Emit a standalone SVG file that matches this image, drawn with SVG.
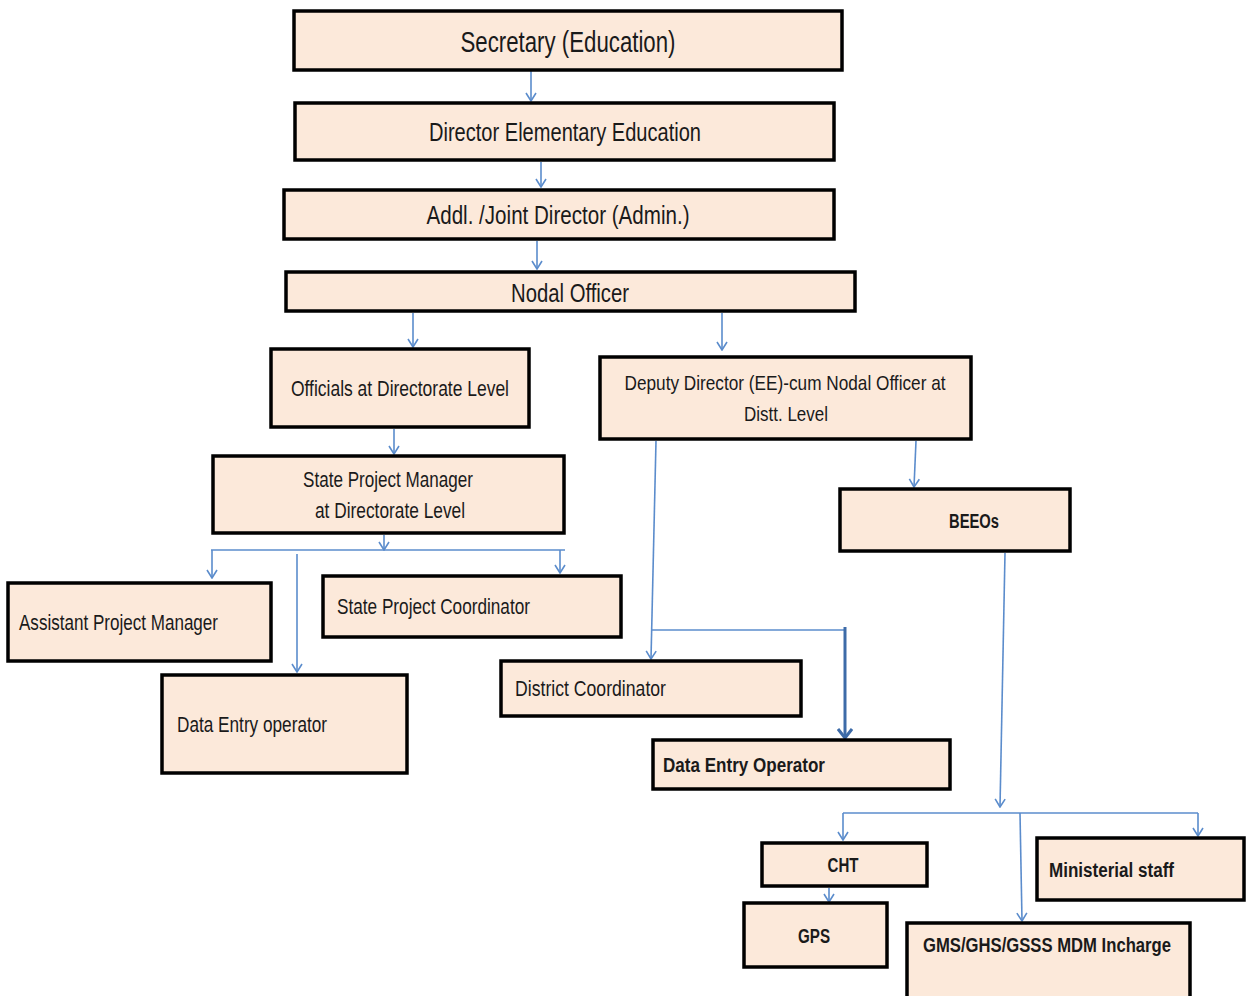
<svg xmlns="http://www.w3.org/2000/svg" width="1250" height="996" viewBox="0 0 1250 996">
<defs>
<style>
.box{fill:#fce9da;stroke:#000;stroke-width:3.5}
.t{font-family:"Liberation Sans",Arial,sans-serif;fill:#1a1a1a}
.b{font-weight:bold}
.c{stroke:#5b8ccc;stroke-width:1.6;fill:none}
.ck{stroke:#3d6ba8;stroke-width:3;fill:none}
</style>
<marker id="arr" viewBox="0 0 12 12" refX="11" refY="6" markerWidth="12" markerHeight="12" markerUnits="userSpaceOnUse" orient="auto">
<path d="M3,1 L11,6 L3,11" fill="none" stroke="#5b8ccc" stroke-width="1.6"/>
</marker>
<marker id="arrk" viewBox="0 0 16 16" refX="14" refY="8" markerWidth="16" markerHeight="16" markerUnits="userSpaceOnUse" orient="auto">
<path d="M5,1 L14,8 L5,15" fill="none" stroke="#3d6ba8" stroke-width="3"/>
</marker>
</defs>
<rect width="1250" height="996" fill="#fff"/>

<g id="connectors">
<path class="c" d="M531,64 V101" marker-end="url(#arr)"/>
<path class="c" d="M541,162 V187" marker-end="url(#arr)"/>
<path class="c" d="M537,241 V269" marker-end="url(#arr)"/>
<path class="c" d="M413,313 V347" marker-end="url(#arr)"/>
<path class="c" d="M722,313 V350" marker-end="url(#arr)"/>
<path class="c" d="M394,429 V454" marker-end="url(#arr)"/>
<path class="c" d="M384,535 V550" marker-end="url(#arr)"/>
<path class="c" d="M211,550 H565"/>
<path class="c" d="M212,550 V578" marker-end="url(#arr)"/>
<path class="c" d="M297,554 V672" marker-end="url(#arr)"/>
<path class="c" d="M560,550 V573" marker-end="url(#arr)"/>
<path class="c" d="M656,441 L651,659" marker-end="url(#arr)"/>
<path class="c" d="M651,630 H845"/>
<path class="ck" d="M845,627 V738" marker-end="url(#arrk)"/>
<path class="c" d="M916,441 L914,487" marker-end="url(#arr)"/>
<path class="c" d="M1005,553 L1000,807" marker-end="url(#arr)"/>
<path class="c" d="M843,813 H1198"/>
<path class="c" d="M843,813 V840" marker-end="url(#arr)"/>
<path class="c" d="M1020,813 L1022,921" marker-end="url(#arr)"/>
<path class="c" d="M1198,813 V836" marker-end="url(#arr)"/>
<path class="c" d="M829,888 V902" marker-end="url(#arr)"/>
</g>

<g id="secretary"><rect class="box" x="294" y="11" width="548" height="59"/>
<text class="t" x="568" y="52" font-size="29" text-anchor="middle" textLength="215" lengthAdjust="spacingAndGlyphs">Secretary (Education)</text></g>
<g id="director"><rect class="box" x="295" y="103" width="539" height="57"/>
<text class="t" x="565" y="141" font-size="26" text-anchor="middle" textLength="272" lengthAdjust="spacingAndGlyphs">Director Elementary Education</text></g>
<g id="addl"><rect class="box" x="284" y="190" width="550" height="49"/>
<text class="t" x="558" y="224" font-size="26" text-anchor="middle" textLength="263" lengthAdjust="spacingAndGlyphs">Addl. /Joint Director (Admin.)</text></g>
<g id="nodal"><rect class="box" x="286" y="272" width="569" height="39"/>
<text class="t" x="570" y="302" font-size="26" text-anchor="middle" textLength="118" lengthAdjust="spacingAndGlyphs">Nodal Officer</text></g>
<g id="officials"><rect class="box" x="271" y="349" width="258" height="78"/>
<text class="t" x="400" y="396" font-size="22" text-anchor="middle" textLength="218" lengthAdjust="spacingAndGlyphs">Officials at Directorate Level</text></g>
<g id="deputy"><rect class="box" x="600" y="357" width="371" height="82"/>
<text class="t" x="785" y="390" font-size="21" text-anchor="middle" textLength="321" lengthAdjust="spacingAndGlyphs">Deputy Director (EE)-cum Nodal Officer at</text>
<text class="t" x="786" y="421" font-size="21" text-anchor="middle" textLength="84" lengthAdjust="spacingAndGlyphs">Distt. Level</text></g>
<g id="spm"><rect class="box" x="213" y="456" width="351" height="77"/>
<text class="t" x="388" y="487" font-size="22" text-anchor="middle" textLength="170" lengthAdjust="spacingAndGlyphs">State Project Manager</text>
<text class="t" x="390" y="518" font-size="22" text-anchor="middle" textLength="150" lengthAdjust="spacingAndGlyphs">at Directorate Level</text></g>
<g id="beeos"><rect class="box" x="840" y="489" width="230" height="62"/>
<text class="t b" x="974" y="528" font-size="20" text-anchor="middle" textLength="50" lengthAdjust="spacingAndGlyphs">BEEOs</text></g>
<g id="apm"><rect class="box" x="8" y="583" width="263" height="78"/>
<text class="t" x="19" y="630" font-size="22" textLength="199" lengthAdjust="spacingAndGlyphs">Assistant Project Manager</text></g>
<g id="spc"><rect class="box" x="323" y="576" width="298" height="61"/>
<text class="t" x="337" y="614" font-size="22" textLength="193" lengthAdjust="spacingAndGlyphs">State Project Coordinator</text></g>
<g id="deo1"><rect class="box" x="162" y="675" width="245" height="98"/>
<text class="t" x="177" y="732" font-size="22" textLength="150" lengthAdjust="spacingAndGlyphs">Data Entry operator</text></g>
<g id="dc"><rect class="box" x="501" y="661" width="300" height="55"/>
<text class="t" x="515" y="696" font-size="22" textLength="151" lengthAdjust="spacingAndGlyphs">District Coordinator</text></g>
<g id="deo2"><rect class="box" x="653" y="740" width="297" height="49"/>
<text class="t b" x="663" y="772" font-size="21" textLength="162" lengthAdjust="spacingAndGlyphs">Data Entry Operator</text></g>
<g id="cht"><rect class="box" x="762" y="843" width="165" height="43"/>
<text class="t b" x="843" y="872" font-size="20" text-anchor="middle" textLength="31" lengthAdjust="spacingAndGlyphs">CHT</text></g>
<g id="ministerial"><rect class="box" x="1037" y="838" width="207" height="62"/>
<text class="t b" x="1049" y="877" font-size="20" textLength="125" lengthAdjust="spacingAndGlyphs">Ministerial staff</text></g>
<g id="gps"><rect class="box" x="744" y="903" width="143" height="64"/>
<text class="t b" x="814" y="943" font-size="20" text-anchor="middle" textLength="32" lengthAdjust="spacingAndGlyphs">GPS</text></g>
<g id="gms"><rect class="box" x="907" y="923" width="283" height="80"/>
<text class="t b" x="923" y="952" font-size="20" textLength="248" lengthAdjust="spacingAndGlyphs">GMS/GHS/GSSS MDM Incharge</text></g>
</svg>
